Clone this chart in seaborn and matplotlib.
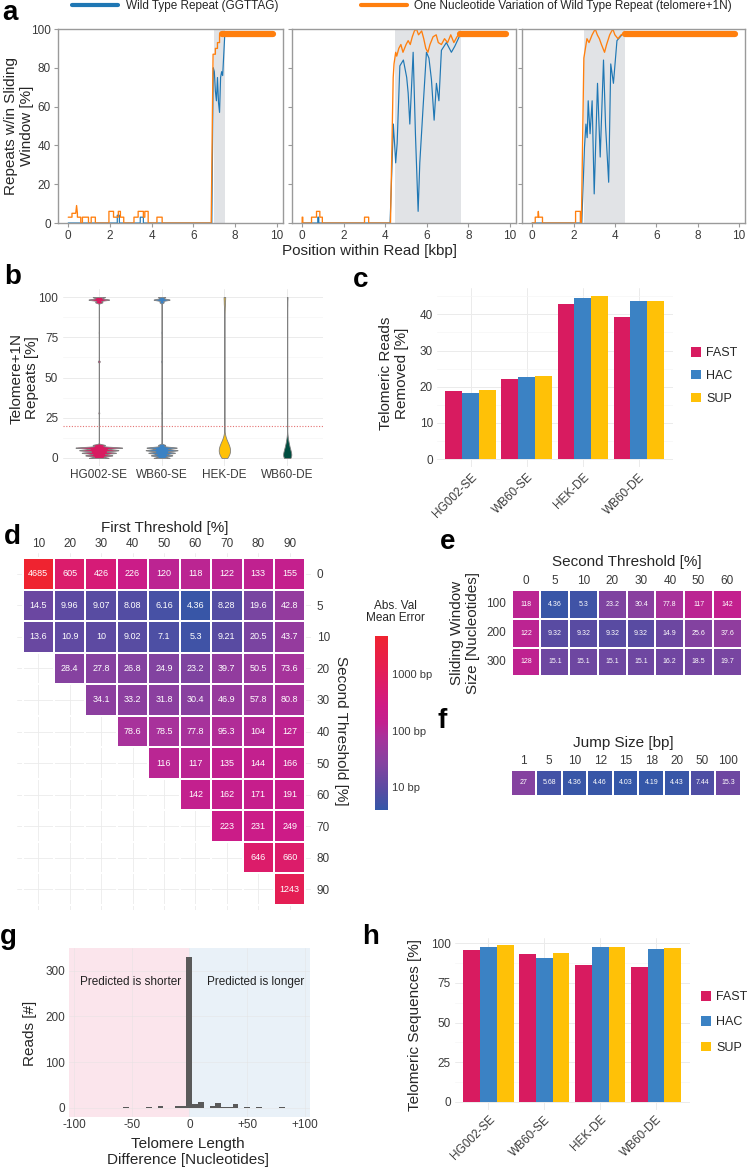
import numpy as np
import pandas as pd
import matplotlib
matplotlib.use("Agg")
import matplotlib.pyplot as plt
import seaborn as sns
from matplotlib.colors import LinearSegmentedColormap, LogNorm
from matplotlib.patches import Patch
from matplotlib.lines import Line2D
from matplotlib.cm import ScalarMappable
from matplotlib.ticker import NullLocator

# ====================== DATA ======================
# ---- panel a : three example reads (x in kbp, y in %) ----
read1_wt = [(0, 0), (2.35, 0), (2.35, 4), (2.45, 4), (2.45, 0), (3.45, 0), (3.45, 3), (3.6, 3), (3.6, 0),
            (6.88, 0), (6.95, 80), (7.0, 78), (7.05, 68), (7.1, 63), (7.15, 75), (7.2, 62), (7.25, 57),
            (7.3, 75), (7.35, 78), (7.4, 76), (7.5, 97)]
read1_var = [(0.0, 3), (0.18, 3), (0.18, 5), (0.36, 5), (0.40, 9), (0.44, 5), (0.44, 3), (0.6, 3), (0.6, 0),
             (0.68, 0), (0.68, 3), (0.97, 3), (0.97, 0), (1.1, 0), (1.1, 3), (1.3, 3), (1.3, 0), (1.95, 0),
             (1.95, 6), (2.17, 6), (2.17, 3), (2.4, 3), (2.4, 6), (2.5, 6), (2.5, 3), (2.66, 3), (2.66, 0),
             (3.15, 0), (3.15, 3), (3.35, 3), (3.35, 6), (3.6, 6), (3.6, 3), (3.67, 3), (3.67, 6), (3.83, 6),
             (3.83, 0), (4.25, 0), (4.25, 3), (4.5, 3), (4.5, 0), (6.85, 0), (6.94, 87), (7.05, 87), (7.05, 90),
             (7.15, 90), (7.15, 93), (7.25, 93), (7.25, 97), (7.35, 97)]
read2_wt = [(0, 0), (0.75, 0), (0.75, 3), (0.8, 3), (0.8, 0), (4.23, 0), (4.39, 51), (4.5, 31), (4.57, 41),
            (4.7, 81), (4.87, 84), (5.03, 75), (5.1, 67), (5.18, 51), (5.34, 88), (5.45, 46), (5.58, 6),
            (5.66, 31), (5.82, 60), (5.98, 88), (6.1, 85), (6.22, 74), (6.35, 53), (6.46, 72), (6.58, 63),
            (6.7, 89), (6.94, 93), (7.18, 88), (7.34, 91), (7.6, 97)]
read2_var = [(0.0, 0), (0.0, 3), (0.03, 3), (0.03, 0), (0.45, 0), (0.45, 3), (0.69, 3), (0.69, 6), (0.85, 6),
             (0.85, 3), (0.97, 3), (0.97, 0), (3.0, 0), (3.0, 3), (3.2, 3), (3.2, 0), (4.25, 0), (4.38, 75),
             (4.42, 82), (4.5, 88), (4.55, 86), (4.65, 90), (4.75, 92), (4.85, 88), (5.0, 92), (5.1, 94),
             (5.2, 92), (5.3, 96), (5.4, 99), (5.5, 100), (5.6, 97), (5.75, 99), (5.85, 95), (5.95, 90),
             (6.05, 88), (6.15, 92), (6.3, 96), (6.45, 97), (6.55, 93), (6.7, 92), (6.85, 95), (7.0, 93),
             (7.15, 97), (7.3, 93), (7.45, 96), (7.6, 98)]
read3_wt = [(0, 0), (2.4, 0), (2.53, 39), (2.6, 51), (2.66, 44), (2.71, 63), (2.8, 46), (2.9, 63), (3.0, 15),
            (3.16, 72), (3.29, 34), (3.45, 84), (3.55, 50), (3.7, 21), (3.8, 82), (3.93, 72), (4.1, 94),
            (4.34, 97), (4.5, 98)]
read3_var = [(0.0, 0), (0.15, 0), (0.15, 3), (0.28, 3), (0.3, 6), (0.32, 3), (0.5, 3), (0.5, 0), (2.1, 0),
             (2.1, 6), (2.33, 6), (2.33, 0), (2.38, 0), (2.5, 85), (2.65, 95), (2.75, 93), (2.9, 97),
             (3.05, 100), (3.15, 97), (3.25, 95), (3.35, 92), (3.5, 88), (3.6, 92), (3.75, 97), (3.9, 100),
             (4.0, 97), (4.15, 95), (4.3, 97), (4.5, 98)]
read_plateaus = [(7.35, 9.8), (7.6, 9.8), (4.5, 9.8)]      # saturated telomere+1N signal
plateau_level = 97.5
telomere_regions = [(7.0, 7.5), (4.45, 7.65), (2.5, 4.5)]

# ---- panel b : telomere+1N repeat distribution (value, count) ----
violin_samples = ["HG002-SE", "WB60-SE", "HEK-DE", "WB60-DE"]
hg002_vals = [0, 1.6, 3.2, 4.8, 6.4, 8.0, 28, 60, 78, 96.8, 98.4, 100]
hg002_counts = [40, 55, 70, 80, 95, 25, 2, 4, 1, 15, 42, 25]
wb60se_vals = [0, 1.6, 3.2, 4.8, 6.4, 8.0, 28, 60, 78, 96.8, 98.4, 100]
wb60se_counts = [45, 60, 75, 90, 85, 20, 2, 3, 2, 12, 45, 20]
hek_vals = [0, 2, 4, 6, 8, 10, 12, 14, 16, 35, 60, 85, 92, 96, 100]
hek_counts = [35, 60, 70, 68, 55, 38, 20, 9, 3, 1, 1, 2, 8, 14, 20]
wb60de_vals = [0, 2, 4, 6, 8, 10, 12, 14, 16, 35, 60, 85, 95, 100]
wb60de_counts = [70, 75, 60, 45, 32, 22, 12, 6, 2, 1, 1, 1, 6, 12]
threshold_line = 20

# ---- panels c and h : per base caller ----
bar_samples = ["HG002-SE", "WB60-SE", "HEK-DE", "WB60-DE"]
callers = ["FAST", "HAC", "SUP"]
removed_fast = [18.7, 22.0, 42.8, 39.2]
removed_hac = [18.4, 22.8, 44.4, 43.8]
removed_sup = [19.0, 23.0, 45.0, 43.8]
telseq_fast = [95.8, 93.5, 86.1, 84.8]
telseq_hac = [97.9, 90.5, 97.7, 96.6]
telseq_sup = [98.7, 94.1, 97.7, 97.3]

# ---- panel d : first vs second threshold ----
nan = np.nan
d_first = [10, 20, 30, 40, 50, 60, 70, 80, 90]
d_second = [0, 5, 10, 20, 30, 40, 50, 60, 70, 80, 90]
d_row_0 = [4685, 605, 426, 226, 120, 118, 122, 133, 155]
d_row_5 = [14.5, 9.96, 9.07, 8.08, 6.16, 4.36, 8.28, 19.6, 42.8]
d_row_10 = [13.6, 10.9, 10, 9.02, 7.1, 5.3, 9.21, 20.5, 43.7]
d_row_20 = [nan, 28.4, 27.8, 26.8, 24.9, 23.2, 39.7, 50.5, 73.6]
d_row_30 = [nan, nan, 34.1, 33.2, 31.8, 30.4, 46.9, 57.8, 80.8]
d_row_40 = [nan, nan, nan, 78.6, 78.5, 77.8, 95.3, 104, 127]
d_row_50 = [nan, nan, nan, nan, 116, 117, 135, 144, 166]
d_row_60 = [nan, nan, nan, nan, nan, 142, 162, 171, 191]
d_row_70 = [nan, nan, nan, nan, nan, nan, 223, 231, 249]
d_row_80 = [nan, nan, nan, nan, nan, nan, nan, 646, 660]
d_row_90 = [nan, nan, nan, nan, nan, nan, nan, nan, 1243]

# ---- panel e : window size vs second threshold ----
e_second = [0, 5, 10, 20, 30, 40, 50, 60]
e_windows = [100, 200, 300]
e_row_100 = [118, 4.36, 5.3, 23.2, 30.4, 77.8, 117, 142]
e_row_200 = [122, 9.32, 9.32, 9.32, 9.32, 14.9, 25.6, 37.6]
e_row_300 = [128, 15.1, 15.1, 15.1, 15.1, 16.2, 18.5, 19.7]

# ---- panel f : jump size ----
f_jump = [1, 5, 10, 12, 15, 18, 20, 50, 100]
f_err = [27, 5.68, 4.36, 4.46, 4.03, 4.19, 4.43, 7.44, 15.3]

# ---- panel g : telomere length difference histogram ----
g_bin_centers = [-55, -35, -25, -10, -5, 0, 5, 10, 20, 25, 30, 35, 40, 50, 60, 80]
g_counts = [2, 2, 4, 3, 3, 330, 8, 12, 4, 10, 2, 2, 9, 2, 2, 2]

# ====================== STYLE ======================
sns.set_theme(style="white")
plt.rcParams["font.family"] = ["Liberation Sans", "DejaVu Sans"]
plt.rcParams["axes.unicode_minus"] = False

BLUE_A, ORANGE_A = "#1f77b4", "#ff7f0e"
CALLER_COLORS = {"FAST": "#D81B60", "HAC": "#3B82C4", "SUP": "#FFC107"}
VIOLIN_COLORS = ["#D81B60", "#3B82C4", "#FFC107", "#004D40"]
TICK_C = "#3a3a3a"
GRID_C = "#ebebeb"

W, H = 749, 1172
fig = plt.figure(figsize=(W / 100, H / 100), dpi=100)


def add_ax(l, t, r, b):
    return fig.add_axes([l / W, 1 - b / H, (r - l) / W, (b - t) / H])


def ftext(x, y, s, **kw):
    kw.setdefault("ha", "center")
    kw.setdefault("va", "center")
    fig.text(x / W, 1 - y / H, s, **kw)


def panel_label(x, y, s):
    ftext(x, y, s, fontsize=20, fontweight="bold", ha="left", color="black")


def minimal(ax):
    for s in ax.spines.values():
        s.set_visible(False)
    ax.set_axisbelow(True)
    ax.tick_params(which="both", length=0, labelsize=8.5, labelcolor=TICK_C)
    ax.set_xlabel("")
    ax.set_ylabel("")


# ====================== PANEL A ======================
a_boxes = [(58, 29, 283, 223), (292, 29, 516, 223), (522, 29, 745, 223)]
reads_wt = [read1_wt, read2_wt, read3_wt]
reads_var = [read1_var, read2_var, read3_var]
for i in range(3):
    ax = add_ax(*a_boxes[i])
    r0, r1 = telomere_regions[i]
    ax.axvspan(r0, r1, color="#e1e3e6", lw=0, zorder=0)
    wx, wy = zip(*reads_wt[i])
    vx, vy = zip(*reads_var[i])
    sns.lineplot(x=list(wx), y=list(wy), ax=ax, color=BLUE_A, lw=0.85, sort=False, estimator=None)
    sns.lineplot(x=list(vx), y=list(vy), ax=ax, color=ORANGE_A, lw=0.95, sort=False, estimator=None)
    p0, p1 = read_plateaus[i]
    sns.lineplot(x=[p0, p1], y=[plateau_level, plateau_level], ax=ax, color=ORANGE_A, lw=4.5,
                 sort=False, estimator=None)
    ax.set_xlim(-0.49, 10.29)
    ax.set_ylim(0, 100)
    ax.set_xticks(range(0, 11, 2))
    ax.set_yticks(range(0, 101, 20))
    for s in ax.spines.values():
        s.set_color("#9a9a9a")
        s.set_linewidth(1.0)
    ax.tick_params(length=3, width=0.8, color="#9a9a9a", labelsize=8.5, labelcolor=TICK_C, pad=2,
                   left=True, bottom=True)
    if i > 0:
        ax.tick_params(labelleft=False)
    ax.set_xlabel("")
    ax.set_ylabel("")

fig.legend(handles=[Line2D([], [], color=BLUE_A, lw=3), Line2D([], [], color=ORANGE_A, lw=3)],
           labels=["Wild Type Repeat (GGTTAG)", "One Nucleotide Variation of Wild Type Repeat (telomere+1N)"],
           loc="center", bbox_to_anchor=(402 / W, 1 - 6 / H), ncol=2, frameon=False, fontsize=8.5,
           handlelength=3.9, handletextpad=0.6, columnspacing=7.0, borderpad=0, borderaxespad=0)
ftext(369, 251, "Position within Read [kbp]", fontsize=11)
ftext(19, 126, "Repeats w/in Sliding\nWindow [%]", fontsize=11, rotation=90, linespacing=1.1)
panel_label(2, 13, "a")

# ====================== PANEL B ======================
axb = add_ax(63, 289, 323, 466)
violin_sets = [(hg002_vals, hg002_counts, 0.745, 0.45, 800),
               (wb60se_vals, wb60se_counts, 0.51, 0.45, 800),
               (hek_vals, hek_counts, 0.18, 1.8, 300),
               (wb60de_vals, wb60de_counts, 0.13, 1.8, 300)]
for name, (vals, cnts, w, bw, gs), col in zip(violin_samples, violin_sets, VIOLIN_COLORS):
    data = np.repeat(np.array(vals, float), cnts)
    dfv = pd.DataFrame({"sample": name, "value": data})
    sns.violinplot(data=dfv, x="sample", y="value", order=violin_samples, color=col, saturation=1,
                   width=w, density_norm="width", cut=0, inner=None, bw_method=bw / np.std(data),
                   gridsize=gs, linewidth=0.6, linecolor="#808080", ax=axb)
axb.axhline(threshold_line, color="#e57373", ls=(0, (1, 1.5)), lw=0.8, zorder=3)
axb.set_xlim(-0.57, 3.57)
axb.set_ylim(-5, 105)
axb.set_yticks([0, 25, 50, 75, 100])
axb.set_yticks([12.5, 37.5, 62.5, 87.5], minor=True)
axb.grid(True, which="major", color=GRID_C, lw=0.7)
axb.grid(True, which="minor", axis="y", color="#f5f5f5", lw=0.5)
minimal(axb)
axb.tick_params(axis="x", pad=2)
ftext(24, 378, "Telomere+1N\nRepeats [%]", fontsize=11, rotation=90, linespacing=1.1)
panel_label(4, 277, "b")


# ====================== PANELS C & H ======================
def caller_bars(box, fast, hac, sup, ylim, yticks, minor, ylabel_args, legend_anchor, lspacing):
    ax = add_ax(*box)
    df = pd.DataFrame({"sample": bar_samples * 3,
                       "caller": [c for c in callers for _ in bar_samples],
                       "value": list(fast) + list(hac) + list(sup)})
    sns.barplot(data=df, x="sample", y="value", hue="caller", order=bar_samples, hue_order=callers,
                palette=CALLER_COLORS, width=0.9, saturation=1, errorbar=None, legend=False,
                linewidth=0, ax=ax)
    ax.set_xlim(-0.6, 3.61)
    ax.set_ylim(*ylim)
    ax.set_yticks(yticks)
    ax.set_yticks(minor, minor=True)
    ax.grid(True, which="major", color=GRID_C, lw=0.7)
    ax.grid(True, which="minor", axis="y", color="#f5f5f5", lw=0.5)
    minimal(ax)
    ax.set_xticks(range(4))
    ax.set_xticklabels(bar_samples, rotation=45, ha="right", rotation_mode="anchor")
    ax.tick_params(axis="x", pad=3)
    ax.tick_params(axis="y", pad=3)
    handles = [Patch(facecolor=CALLER_COLORS[c], edgecolor="none") for c in callers]
    ax.legend(handles, callers, loc="upper left", bbox_to_anchor=(legend_anchor[0] / W, 1 - legend_anchor[1] / H),
              bbox_transform=fig.transFigure, frameon=False, fontsize=9, handlelength=0.8,
              handleheight=0.8, handletextpad=0.4, labelspacing=lspacing, borderpad=0, borderaxespad=0)
    ftext(*ylabel_args[0], ylabel_args[1], fontsize=11, rotation=90, linespacing=1.1)
    return ax


caller_bars((437, 288, 673, 467), removed_fast, removed_hac, removed_sup, (-2.2, 47.3),
            [0, 10, 20, 30, 40], [5, 15, 25, 35, 45], ((394, 373), "Telomeric Reads\nRemoved [%]"),
            (691, 347), 0.85)
panel_label(353, 280, "c")

caller_bars((455, 937.6, 690, 1109.5), telseq_fast, telseq_hac, telseq_sup, (-4.9, 103.6),
            [0, 25, 50, 75, 100], [12.5, 37.5, 62.5, 87.5], ((415, 1025), "Telomeric Sequences [%]"),
            (701, 991), 1.05)
panel_label(362, 937, "h")

# ====================== HEATMAPS D, E, F ======================
cmap = LinearSegmentedColormap.from_list(
    "err", [(0.0, "#3457A8"), (0.12, "#5A4BA2"), (0.27, "#8542A0"), (0.42, "#A8329B"),
            (0.50, "#C2208F"), (0.60, "#CF1A85"), (0.72, "#DC1C6A"), (0.82, "#E51E52"), (1.0, "#EF2330")])
norm = LogNorm(vmin=4.0, vmax=4700)


def labels_of(mat):
    out = np.empty(mat.shape, dtype=object)
    for (r, c), v in np.ndenumerate(mat):
        out[r, c] = "" if np.isnan(v) else (f"{v:.0f}" if v >= 100 else f"{v:.3g}")
    return out


# --- d
d_mat = pd.DataFrame([d_row_0, d_row_5, d_row_10, d_row_20, d_row_30, d_row_40, d_row_50, d_row_60,
                      d_row_70, d_row_80, d_row_90], index=d_second, columns=d_first, dtype=float)
axd = add_ax(17, 553, 311, 910)
sns.heatmap(d_mat, ax=axd, cmap=cmap, norm=norm, cbar=False, mask=d_mat.isna(),
            annot=labels_of(d_mat.values), fmt="", annot_kws={"size": 6.5, "color": "white"},
            linewidths=1.2, linecolor="white")
axd.set_xlim(-0.18, 9.18)
axd.set_ylim(11.16, -0.16)
axd.grid(True, color=GRID_C, lw=0.6)
axd.set_axisbelow(True)
axd.xaxis.tick_top()
axd.yaxis.tick_right()
axd.tick_params(length=0, labelsize=8.5, labelcolor=TICK_C)
axd.tick_params(axis="x", pad=2, labelrotation=0)
axd.tick_params(axis="y", pad=4, labelrotation=0)
axd.set_xlabel("")
axd.set_ylabel("")
ftext(164.5, 528, "First Threshold [%]", fontsize=11)
ftext(341, 731, "Second Threshold [%]", fontsize=11, rotation=270)
panel_label(4, 537, "d")

# --- colourbar
cax = add_ax(375, 636, 388, 810)
cb = fig.colorbar(ScalarMappable(norm=norm, cmap=cmap), cax=cax)
cb.set_ticks([10, 100, 1000])
cb.set_ticklabels(["10 bp", "100 bp", "1000 bp"])
cax.yaxis.set_minor_locator(NullLocator())
cb.outline.set_visible(False)
cax.tick_params(length=3, width=0.8, color="white", direction="in", labelsize=8, labelcolor=TICK_C, pad=3,
                left=True, right=True)
ftext(395, 612, "Abs. Val\nMean Error", fontsize=8.5, linespacing=1.1)

# --- e
e_mat = pd.DataFrame([e_row_100, e_row_200, e_row_300], index=e_windows, columns=e_second, dtype=float)
axe = add_ax(511.7, 590, 741.7, 676.25)
sns.heatmap(e_mat, ax=axe, cmap=cmap, norm=norm, cbar=False, annot=labels_of(e_mat.values), fmt="",
            annot_kws={"size": 5, "color": "white"}, linewidths=1.2, linecolor="white")
axe.xaxis.tick_top()
axe.tick_params(length=0, labelsize=8.5, labelcolor=TICK_C)
axe.tick_params(axis="x", pad=2, labelrotation=0)
axe.tick_params(axis="y", pad=4, labelrotation=0)
axe.set_xlabel("")
axe.set_ylabel("")
ftext(626.7, 562, "Second Threshold [%]", fontsize=11)
ftext(465, 633, "Sliding Window\nSize [Nucleotides]", fontsize=11, rotation=90, linespacing=1.15)
panel_label(440, 542, "e")

# --- f
f_mat = pd.DataFrame([f_err], index=["err"], columns=f_jump, dtype=float)
axf = add_ax(510.7, 770, 740.7, 795.6)
sns.heatmap(f_mat, ax=axf, cmap=cmap, norm=norm, cbar=False, annot=labels_of(f_mat.values), fmt="",
            annot_kws={"size": 5, "color": "white"}, linewidths=1.2, linecolor="white", yticklabels=False)
axf.xaxis.tick_top()
axf.tick_params(length=0, labelsize=8.5, labelcolor=TICK_C)
axf.tick_params(axis="x", pad=2, labelrotation=0)
axf.set_xlabel("")
axf.set_ylabel("")
ftext(623, 743, "Jump Size [bp]", fontsize=11)
panel_label(438, 721, "f")

# ====================== PANEL G ======================
axg = add_ax(69.3, 948.3, 310, 1116.7)
axg.axvspan(-104, 0, color="#fbe5ec", lw=0, zorder=0)
axg.axvspan(0, 104.5, color="#e9f1f8", lw=0, zorder=0)
g_df = pd.DataFrame({"diff": g_bin_centers, "reads": g_counts})
sns.histplot(data=g_df, x="diff", weights="reads", binwidth=5, binrange=(-102.5, 102.5), color="#5a5a5a",
             alpha=1, edgecolor="none", linewidth=0, ax=axg, zorder=2)
axg.set_xlim(-104, 104.5)
axg.set_ylim(-19.7, 349)
axg.set_xticks([-100, -50, 0, 50, 100])
axg.set_xticklabels(["-100", "-50", "0", "+50", "+100"])
axg.set_yticks([0, 100, 200, 300])
axg.grid(True, color="#e2e2e2", lw=0.5, alpha=0.6)
minimal(axg)
axg.set_axisbelow(True)
axg.tick_params(axis="x", pad=2)
axg.tick_params(axis="y", pad=3)
axg.text(-51, 276, "Predicted is shorter", ha="center", va="center", fontsize=8.5, color="#222222")
axg.text(57, 276, "Predicted is longer", ha="center", va="center", fontsize=8.5, color="#222222")
ftext(30, 1033, "Reads [#]", fontsize=11, rotation=90)
ftext(188, 1152, "Telomere Length\nDifference [Nucleotides]", fontsize=11, linespacing=1.15)
panel_label(0, 937, "g")

fig.savefig("out.png", dpi=100)
